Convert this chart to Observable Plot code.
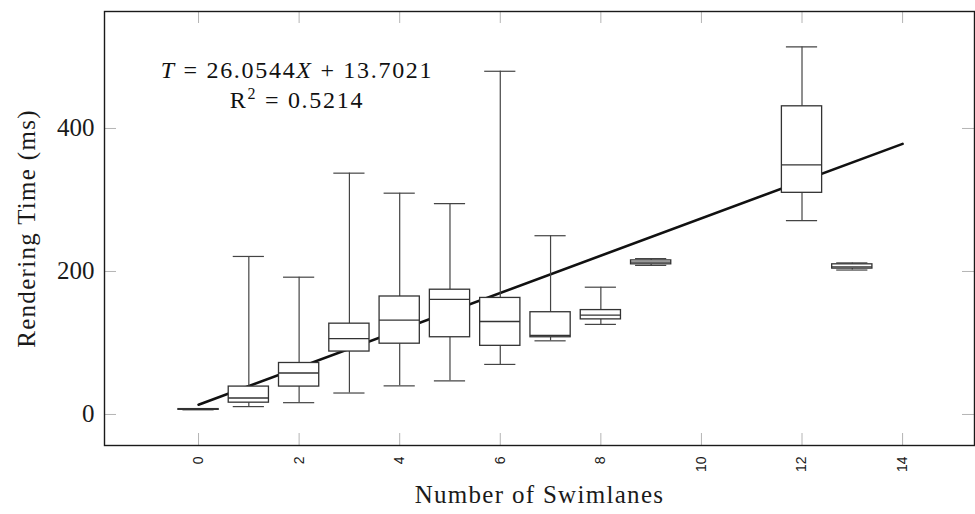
<!DOCTYPE html>
<html><head><meta charset="utf-8">
<script src="https://cdn.jsdelivr.net/npm/d3@7"></script>
<script src="https://cdn.jsdelivr.net/npm/@observablehq/plot@0.6"></script>
<style>body{margin:0;background:#fff} .axis-title text{letter-spacing:1.3px}</style>
</head><body><div id="chart"></div>
<script>
// ---- data ----
const swimlanes    = [0, 1, 2, 3, 4, 5, 6, 7, 8, 9, 12, 13];
const lowerWhisker = [6.5, 11, 16.5, 30, 40, 47, 70, 103, 126, 208.5, 271, 202];
const q1           = [6.5, 16.5, 39, 88, 99, 108, 96, 108, 133, 210, 310, 204];
const median       = [7, 23, 58, 106, 132, 161, 130, 110.5, 139, 213, 349, 206.5];
const q3           = [7.5, 39, 72, 127, 165, 174.5, 163, 143, 146, 215.5, 431, 210];
const upperWhisker = [7.5, 221, 192, 337.5, 309.5, 295, 480, 250, 178, 218, 514, 212];
const xTicks = [0, 2, 4, 6, 8, 10, 12, 14];
const yTicks = [0, 200, 400];
const slope = 26.0544, intercept = 13.7021, rSquared = 0.5214;
const fitX = [0, 14];
const xLabel = "Number of Swimlanes";
const yLabel = "Rendering Time (ms)";

// ---- build tables ----
const boxes = swimlanes.map((x, i) => ({x, lo: lowerWhisker[i], q1: q1[i], med: median[i], q3: q3[i], hi: upperWhisker[i]}));
const fit = fitX.map(x => ({x, y: slope * x + intercept}));

const W = 975, H = 514, mL = 104, mR = 1, mT = 11, mB = 69;
const plotW = W - mL - mR, plotH = H - mT - mB;
const halfBox = 0.4, halfCap = 0.31, tickLen = 12;
const serif = "'Liberation Serif', 'DejaVu Serif', serif";
const boxStroke = "#333", whiskerStroke = "#444", tickStroke = "#b4b4b4";

function equation() {
  return (index, scales, values, dims) => {
    const g = d3.create("svg:g")
      .attr("font-family", serif).attr("font-size", 24)
      .attr("fill", "#111").attr("text-anchor", "middle");
    const cx = dims.marginLeft + 193;
    const t1 = g.append("text").attr("x", cx).attr("y", 78).attr("letter-spacing", 1.7);
    t1.append("tspan").attr("font-style", "italic").text("T");
    t1.append("tspan").text(" = " + slope.toFixed(4));
    t1.append("tspan").attr("font-style", "italic").text("X");
    t1.append("tspan").text(" + " + intercept.toFixed(4));
    const t2 = g.append("text").attr("x", cx).attr("y", 108).attr("letter-spacing", 1.7);
    t2.append("tspan").text("R");
    t2.append("tspan").attr("font-size", 16).attr("dy", -9).text("2");
    t2.append("tspan").attr("dy", 9).text(" = " + rSquared.toFixed(4));
    return g.node();
  };
}

const chart = Plot.plot({
  width: W, height: H,
  marginLeft: mL, marginRight: mR, marginTop: mT, marginBottom: mB,
  x: {type: "linear", domain: [-1.87, 15.43]},
  y: {type: "linear", domain: [-43.4, 563.6]},
  style: {fontFamily: serif, background: "white", color: "#1a1a1a"},
  marks: [
    // inward ticks on all four sides
    Plot.ruleX(xTicks, {stroke: tickStroke, strokeWidth: 1, insetTop: plotH - tickLen}),
    Plot.ruleX(xTicks, {stroke: tickStroke, strokeWidth: 1, insetBottom: plotH - tickLen}),
    Plot.ruleY(yTicks, {stroke: tickStroke, strokeWidth: 1, insetRight: plotW - tickLen}),
    Plot.ruleY(yTicks, {stroke: tickStroke, strokeWidth: 1, insetLeft: plotW - tickLen}),
    // regression line
    Plot.line(fit, {x: "x", y: "y", stroke: "#111", strokeWidth: 2.6}),
    // whiskers
    Plot.ruleX(boxes, {x: "x", y1: "q3", y2: "hi", stroke: whiskerStroke, strokeWidth: 1.2}),
    Plot.ruleX(boxes, {x: "x", y1: "lo", y2: "q1", stroke: whiskerStroke, strokeWidth: 1.2}),
    Plot.ruleY(boxes, {y: "hi", x1: d => d.x - halfCap, x2: d => d.x + halfCap, stroke: whiskerStroke, strokeWidth: 1.2}),
    Plot.ruleY(boxes, {y: "lo", x1: d => d.x - halfCap, x2: d => d.x + halfCap, stroke: whiskerStroke, strokeWidth: 1.2}),
    // boxes + medians
    Plot.rect(boxes, {x1: d => d.x - halfBox, x2: d => d.x + halfBox, y1: "q1", y2: "q3", fill: "white", stroke: boxStroke, strokeWidth: 1.3}),
    Plot.ruleY(boxes, {y: "med", x1: d => d.x - halfBox, x2: d => d.x + halfBox, stroke: boxStroke, strokeWidth: 1.3}),
    Plot.frame({stroke: "#1a1a1a", strokeWidth: 1.4}),
    // axes labels
    Plot.axisX(xTicks, {tickSize: 0, tickRotate: -90, tickPadding: 11, fontFamily: "'Liberation Sans', sans-serif", fontSize: 14, label: null}),
    Plot.axisY(yTicks, {tickSize: 0, tickPadding: 10, fontSize: 25, label: null}),
    Plot.text([xLabel], {frameAnchor: "bottom", dy: 57, fontSize: 25, textAnchor: "middle", className: "axis-title"}),
    Plot.text([yLabel], {frameAnchor: "left", dx: -78, rotate: -90, fontSize: 25, textAnchor: "middle", className: "axis-title"}),
    equation()
  ]
});
document.getElementById("chart").appendChild(chart);
</script>
</body></html>
